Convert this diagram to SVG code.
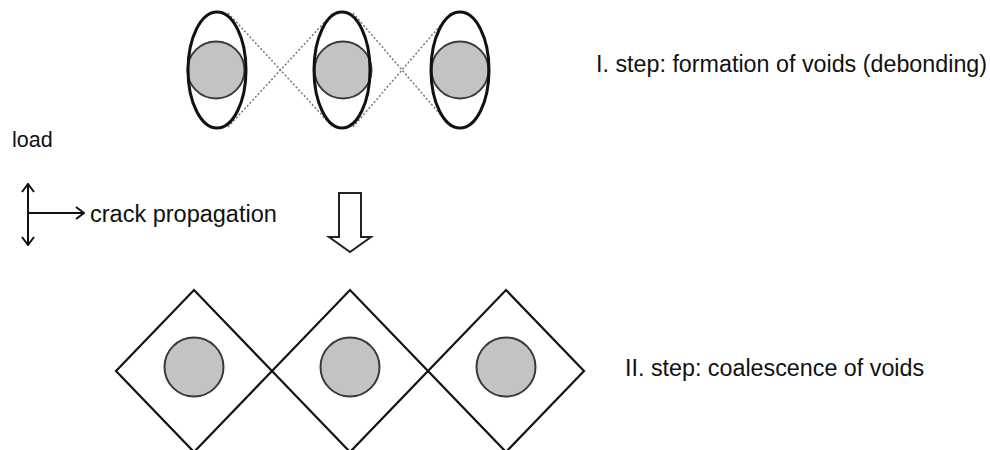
<svg xmlns="http://www.w3.org/2000/svg" width="990" height="450" viewBox="0 0 990 450">
<defs>
<style>
.lbl{font-family:"Liberation Sans",Arial,sans-serif;font-size:23px;fill:#111}
.void{fill:#c3c3c3;stroke:#3a3a3a;stroke-width:2}
.ell{fill:none;stroke:#111;stroke-width:3}
.dia{fill:none;stroke:#111;stroke-width:2.2}
.dot{fill:none;stroke:#777;stroke-width:1.5;stroke-dasharray:2 2}
.ln{fill:none;stroke:#111;stroke-width:2}
</style>
<marker id="chev" viewBox="0 0 14 14" refX="13" refY="7" markerWidth="14" markerHeight="14" markerUnits="userSpaceOnUse" orient="auto-start-reverse">
<path d="M5,1 L13,7 L5,13" fill="none" stroke="#111" stroke-width="2"/>
</marker>
</defs>
<rect width="990" height="450" fill="#fff"/>
<g id="connectors">
<line class="dot" x1="228" y1="13" x2="333" y2="127"/>
<line class="dot" x1="228" y1="127" x2="333" y2="13"/>
<line class="dot" x1="353" y1="13" x2="451" y2="127"/>
<line class="dot" x1="353" y1="127" x2="451" y2="13"/>
<line class="ln" x1="28" y1="184" x2="28" y2="245" marker-start="url(#chev)" marker-end="url(#chev)"/>
<line class="ln" x1="28" y1="213" x2="84" y2="213" marker-end="url(#chev)"/>
<polygon points="339,193 361,193 361,237 371,237 350,252 329,237 339,237" fill="#fff" stroke="#222" stroke-width="2"/>
</g>
<g id="void1">
<circle class="void" cx="216" cy="70" r="28.5"/>
<ellipse class="ell" cx="217" cy="70" rx="29" ry="58"/>
</g>
<g id="void2">
<circle class="void" cx="343" cy="70" r="28.5"/>
<ellipse class="ell" cx="342" cy="70" rx="28" ry="58"/>
</g>
<g id="void3">
<circle class="void" cx="460" cy="70" r="28.5"/>
<ellipse class="ell" cx="460" cy="70" rx="29" ry="58"/>
</g>
<g id="cell1">
<polygon class="dia" points="116,371 194,290 272,371 194,452"/>
<circle class="void" cx="194" cy="367" r="29.5"/>
</g>
<g id="cell2">
<polygon class="dia" points="272,371 350,290 428,371 350,452"/>
<circle class="void" cx="350" cy="367" r="29.5"/>
</g>
<g id="cell3">
<polygon class="dia" points="428,371 506,290 584,371 506,452"/>
<circle class="void" cx="506" cy="367" r="29.5"/>
</g>
<g id="labels">
<text class="lbl" x="12" y="147" style="font-size:21.5px">load</text>
<text class="lbl" x="90" y="222" style="font-size:23.5px">crack propagation</text>
<text class="lbl" x="596" y="72" style="font-size:23.3px">I. step: formation of voids (debonding)</text>
<text class="lbl" x="625" y="376" style="font-size:23.3px">II. step: coalescence of voids</text>
</g>
</svg>
